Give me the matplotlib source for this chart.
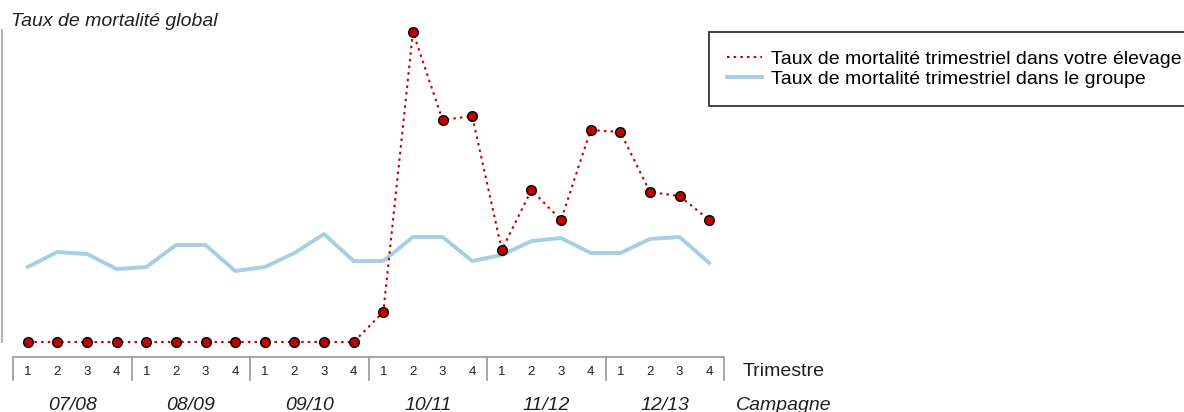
import matplotlib.pyplot as plt
from matplotlib.lines import Line2D

plt.rcParams['font.family'] = ['Liberation Sans', 'DejaVu Sans']

campagnes = ["07/08", "08/09", "09/10", "10/11", "11/12", "12/13"]
trimestres = ["1", "2", "3", "4"]

# taux de mortalite (%) par trimestre
elevage = [0, 0, 0, 0, 0, 0, 0, 0, 0, 0, 0, 0,
           0.30, 3.10, 2.22, 2.26, 0.92, 1.52, 1.22, 2.12, 2.10, 1.50, 1.46, 1.22]
groupe = [0.75, 0.90, 0.88, 0.73, 0.75, 0.97, 0.97, 0.71, 0.75, 0.89, 1.08, 0.81,
          0.81, 1.05, 1.05, 0.81, 0.87, 1.01, 1.04, 0.89, 0.89, 1.03, 1.05, 0.79]

W, H = 1184, 412
fig = plt.figure(figsize=(W / 100, H / 100), dpi=100)

def px_axes(x0, y0, x1, y1):
    return fig.add_axes([x0 / W, 1 - y1 / H, (x1 - x0) / W, (y1 - y0) / H])

slot = 29.6
n = len(elevage)
x = list(range(n))
xmin = -0.5 - 11 / slot
xmax = n - 0.5
fs = 14

ax = px_axes(2, 30, 724, 342)
ax.set_xlim(xmin, xmax)
ax.set_ylim(0, 3.12)
ax.plot(x, groupe, color="#a6cfe3", lw=2.8, clip_on=False, zorder=2)
ax.plot(x, elevage, color="#c00000", lw=1.5, ls=(0, (1.2, 2.0)), clip_on=False, zorder=3)
ax.plot(x, elevage, ls="none", marker="o", ms=7, mfc="#c00000", mec="black", mew=1.0,
        clip_on=False, zorder=4)
for s in ["top", "right", "bottom"]:
    ax.spines[s].set_visible(False)
ax.spines["left"].set_color("#b4b4b4")
ax.spines["left"].set_linewidth(1.5)
ax.set_xticks([])
ax.set_yticks([])

fig.text(11 / W, 1 - 21 / H, "Taux de mortalité global", style="italic", fontsize=fs,
         ha="left", va="center", color="#202020")

# boite des categories
cat = px_axes(2, 357, 724, 380)
cat.set_xlim(xmin, xmax)
cat.set_ylim(0, 1)
cat.axis("off")
cat.plot([-0.5, xmax], [1, 1], color="#a0a0a0", lw=1.3, clip_on=False)
for k in range(len(campagnes) + 1):
    cat.plot([k * 4 - 0.5] * 2, [0, 1], color="#a0a0a0", lw=1.3, clip_on=False)
for i in x:
    cat.text(i, 0.35, trimestres[i % 4], ha="center", va="center", fontsize=9.5, color="#202020")
for k, c in enumerate(campagnes):
    cat.text(k * 4 + 1.5, -1.1, c, ha="center", va="center", fontsize=fs,
             style="italic", color="#202020")
cat.text(n + 1.5, 0.35, "Trimestre", ha="center", va="center", fontsize=fs, color="#202020")
cat.text(n + 1.5, -1.1, "Campagne", ha="center", va="center", fontsize=fs,
         style="italic", color="#202020")

handles = [
    Line2D([], [], color="#c00000", lw=1.5, ls=(0, (1.2, 2.0))),
    Line2D([], [], color="#a6cfe3", lw=2.8),
]
labels = ["Taux de mortalité trimestriel dans votre élevage",
          "Taux de mortalité trimestriel dans le groupe"]
leg = fig.legend(handles, labels, loc="upper left", bbox_to_anchor=(709 / W, 1 - 32 / H),
                 fontsize=fs, frameon=True, fancybox=False, borderaxespad=0,
                 handlelength=1.75, handletextpad=0.5, labelspacing=0.1,
                 borderpad=0.95)
leg.get_frame().set_edgecolor("black")
leg.get_frame().set_linewidth(1.3)

fig.savefig("out.png", dpi=100)
